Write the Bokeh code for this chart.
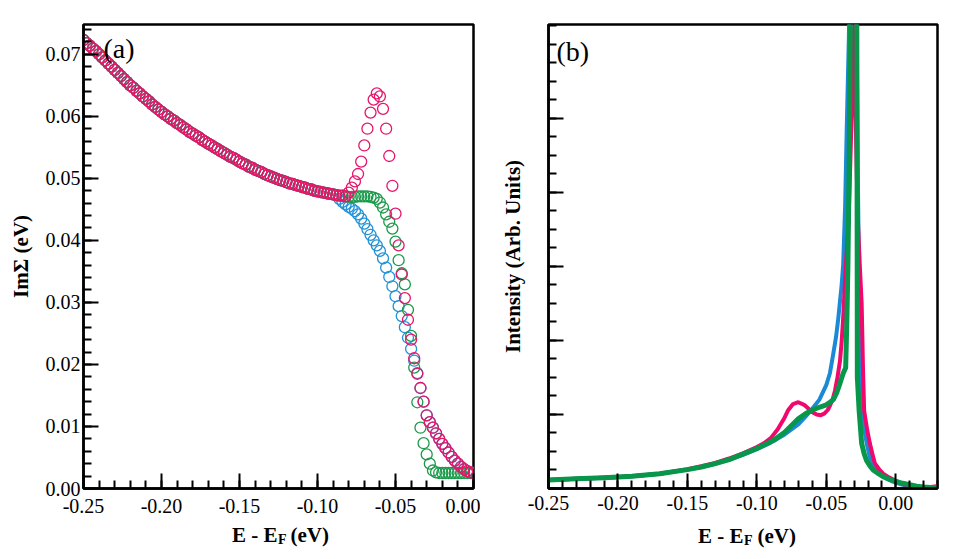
from bokeh.plotting import figure
from bokeh.layouts import row, column
from bokeh.models import Range1d, FixedTicker, NumeralTickFormatter, Label
from bokeh.core.properties import value
from bokeh.embed import file_html
from bokeh.resources import INLINE

FONT = "Liberation Serif"
PINK = "#e8156b"
BLUE = "#2192d6"
GREEN = "#1c9a4b"

# ---------------- panel (a) data: Im Sigma vs E - E_F ----------------
E_a = [-0.250, -0.248, -0.246, -0.244, -0.242, -0.240, -0.238, -0.236, -0.234, -0.232,
       -0.230, -0.228, -0.226, -0.224, -0.222, -0.220, -0.218, -0.216, -0.214, -0.212,
       -0.210, -0.208, -0.206, -0.204, -0.202, -0.200, -0.198, -0.196, -0.194, -0.192,
       -0.190, -0.188, -0.186, -0.184, -0.182, -0.180, -0.178, -0.176, -0.174, -0.172,
       -0.170, -0.168, -0.166, -0.164, -0.162, -0.160, -0.158, -0.156, -0.154, -0.152,
       -0.150, -0.148, -0.146, -0.144, -0.142, -0.140, -0.138, -0.136, -0.134, -0.132,
       -0.130, -0.128, -0.126, -0.124, -0.122, -0.120, -0.118, -0.116, -0.114, -0.112,
       -0.110, -0.108, -0.106, -0.104, -0.102, -0.100, -0.098, -0.096, -0.094, -0.092,
       -0.090, -0.088, -0.086, -0.084, -0.082, -0.080, -0.078, -0.076, -0.074, -0.072,
       -0.070, -0.068, -0.066, -0.064, -0.062, -0.060, -0.058, -0.056, -0.054, -0.052,
       -0.050, -0.048, -0.046, -0.044, -0.042, -0.040, -0.038, -0.036, -0.034, -0.032,
       -0.030, -0.028, -0.026, -0.024, -0.022, -0.020, -0.018, -0.016, -0.014, -0.012,
       -0.010, -0.008, -0.006, -0.004, -0.002, 0.000]

# shared part of the three series (E = -0.250 ... -0.088)
im_shared = [0.0723, 0.0718, 0.0714, 0.0709, 0.0705, 0.0700, 0.0695, 0.0690, 0.0685, 0.0680,
             0.0675, 0.0670, 0.0665, 0.0660, 0.0655, 0.0650, 0.0646, 0.0641, 0.0637, 0.0632,
             0.0628, 0.0624, 0.0619, 0.0615, 0.0611, 0.0607, 0.0603, 0.0600, 0.0596, 0.0593,
             0.0589, 0.0586, 0.0582, 0.0579, 0.0575, 0.0572, 0.0569, 0.0566, 0.0562, 0.0559,
             0.0556, 0.0553, 0.0550, 0.0547, 0.0544, 0.0541, 0.0538, 0.0535, 0.0533, 0.0530,
             0.0527, 0.0524, 0.0522, 0.0519, 0.0517, 0.0514, 0.0512, 0.0510, 0.0507, 0.0505,
             0.0503, 0.0501, 0.0499, 0.0497, 0.0496, 0.0494, 0.0492, 0.0491, 0.0489, 0.0488,
             0.0486, 0.0485, 0.0483, 0.0482, 0.0480, 0.0479, 0.0478, 0.0477, 0.0476, 0.0475,
             0.0474, 0.0473]

# E = -0.086 ... 0.000
im_pink_rest = [0.0472, 0.0472, 0.0471,
                0.0477, 0.0485, 0.0495, 0.0507, 0.0527, 0.0553, 0.0580, 0.0606, 0.0627, 0.0637,
                0.0632, 0.0612, 0.0580, 0.0536, 0.0488, 0.0443, 0.0392, 0.0345, 0.0307, 0.0272,
                0.0240, 0.0210, 0.0185, 0.0162, 0.0140, 0.0118, 0.0107, 0.0098, 0.0089, 0.0080,
                0.0072, 0.0065, 0.0058, 0.0051, 0.0045, 0.0040, 0.0035, 0.0031, 0.0028, 0.0026,
                0.0025]
im_blue_rest = [0.0467, 0.0462, 0.0458,
                0.0454, 0.0451, 0.0447, 0.0442, 0.0435, 0.0427, 0.0418, 0.0409, 0.0400, 0.0392,
                0.0383, 0.0371, 0.0356, 0.0341, 0.0326, 0.0310, 0.0294, 0.0278, 0.0260, 0.0243,
                0.0225, 0.0206, 0.0186, 0.0162, 0.0140, 0.0118, 0.0107, 0.0098, 0.0089, 0.0080,
                0.0072, 0.0065, 0.0058, 0.0051, 0.0045, 0.0040, 0.0035, 0.0031, 0.0028, 0.0026,
                0.0025]
im_green_rest = [0.0472, 0.0472, 0.0471,
                 0.0470, 0.0470, 0.0470, 0.0471, 0.0471, 0.0471, 0.0471, 0.0470, 0.0469, 0.0467,
                 0.0461, 0.0453, 0.0442, 0.0430, 0.0419, 0.0398, 0.0368, 0.0347, 0.0329, 0.0288,
                 0.0246, 0.0195, 0.0139, 0.0098, 0.0073, 0.0055, 0.0040, 0.0029, 0.0026, 0.0025,
                 0.0025, 0.0025, 0.0025, 0.0025, 0.0025, 0.0025, 0.0025, 0.0025, 0.0025, 0.0025,
                 0.0025]

im_pink = im_shared + im_pink_rest
im_blue = im_shared + im_blue_rest
im_green = im_shared + im_green_rest

a_xticks = [-0.25, -0.20, -0.15, -0.10, -0.05, 0.00]
a_yticks = [0.00, 0.01, 0.02, 0.03, 0.04, 0.05, 0.06, 0.07]

# ---------------- panel (b) data: spectral intensity ----------------
E_b_blue = [-0.25, -0.23, -0.21, -0.19, -0.17, -0.15, -0.14, -0.13, -0.12, -0.11, -0.10, -0.09,
            -0.08, -0.07, -0.065, -0.06, -0.055, -0.05, -0.0474, -0.045, -0.043, -0.0414, -0.039,
            -0.0379, -0.0365, -0.0354, -0.0338, -0.032, -0.0305, -0.029, -0.0272, -0.026, -0.0246,
            -0.0228, -0.021, -0.019, -0.0175, -0.0145, -0.0115, -0.007, -0.0031, 0.0, 0.005, 0.01,
            0.015, 0.02, 0.025, 0.03]
I_b_blue = [0.116, 0.13, 0.145, 0.165, 0.20, 0.255, 0.29, 0.335, 0.39, 0.455, 0.53, 0.62,
            0.73, 0.87, 0.97, 1.08, 1.20, 1.40, 1.56, 1.82, 2.05, 2.30, 2.75,
            3.02, 3.8, 4.8, 6.1, 8.0, 9.0, 8.0, 4.0, 2.0, 1.15,
            0.82, 0.61, 0.45, 0.34, 0.25, 0.19, 0.14, 0.10, 0.08, 0.05, 0.03,
            0.02, 0.015, 0.018, 0.025]

E_b_pink = [-0.25, -0.23, -0.21, -0.19, -0.17, -0.15, -0.14, -0.13, -0.12, -0.11, -0.10, -0.095,
            -0.09, -0.085, -0.08, -0.0774, -0.074, -0.0702, -0.066, -0.063, -0.06, -0.057, -0.054,
            -0.0515, -0.049, -0.0474, -0.0455, -0.0438, -0.042, -0.0402, -0.039, -0.0379, -0.0361,
            -0.034, -0.032, -0.0302, -0.029, -0.0275, -0.0259, -0.0246, -0.0236, -0.0228, -0.0205,
            -0.0187, -0.0165, -0.0151, -0.012, -0.0091, -0.005, -0.0007, 0.005, 0.01, 0.015, 0.02,
            0.025, 0.03]
I_b_pink = [0.116, 0.13, 0.145, 0.165, 0.20, 0.26, 0.30, 0.345, 0.405, 0.475, 0.56, 0.61,
            0.68, 0.80, 0.96, 1.06, 1.14, 1.165, 1.13, 1.08, 1.03, 1.00, 0.99,
            1.01, 1.06, 1.12, 1.20, 1.32, 1.50, 1.72, 1.98, 2.30, 2.97,
            3.6, 4.9, 6.25, 5.1, 3.7, 3.0, 2.5, 1.6, 1.05, 0.78,
            0.61, 0.44, 0.34, 0.26, 0.20, 0.15, 0.11, 0.06, 0.035, 0.02, 0.015,
            0.02, 0.03]

E_b_green = [-0.25, -0.23, -0.21, -0.19, -0.17, -0.15, -0.14, -0.13, -0.12, -0.112, -0.10, -0.088,
             -0.08, -0.0702, -0.065, -0.06, -0.0546, -0.05, -0.0474, -0.045, -0.0426, -0.0402,
             -0.038, -0.0361, -0.0352, -0.0345, -0.0335, -0.0327, -0.0318, -0.0305, -0.0290,
             -0.0281, -0.0279, -0.0277, -0.0264, -0.0246, -0.0228, -0.0211, -0.0185, -0.0163,
             -0.0125, -0.0091, -0.004, 0.0005, 0.005, 0.010, 0.015, 0.02, 0.025, 0.03]
I_b_green = [0.116, 0.13, 0.145, 0.165, 0.20, 0.255, 0.29, 0.335, 0.39, 0.45, 0.54, 0.65,
             0.76, 0.94, 1.01, 1.06, 1.10, 1.13, 1.165, 1.20, 1.29, 1.42,
             1.55, 1.63, 2.3, 3.0, 4.5, 6.27, 9.0, 10.0, 9.0,
             6.3, 4.6, 1.5, 1.05, 0.61, 0.47, 0.38, 0.30, 0.25,
             0.20, 0.16, 0.12, 0.094, 0.07, 0.05, 0.03, 0.02, 0.015, 0.015]

b_xticks = [-0.25, -0.20, -0.15, -0.10, -0.05, 0.00]
b_yticks = [0, 1, 2, 3, 4, 5]

x_label_parts = ["E - E", "F", "(eV)"]

TOP_H = 523
LAB_H = 559 - TOP_H


def style(p, xticks, xminor, yticks, yminor):
    p.xaxis.ticker = FixedTicker(ticks=xticks, minor_ticks=xminor)
    p.yaxis.ticker = FixedTicker(ticks=yticks, minor_ticks=yminor)
    for ax in (p.xaxis[0], p.yaxis[0]):
        ax.major_tick_in = 15
        ax.major_tick_out = 0
        ax.minor_tick_in = 8
        ax.minor_tick_out = 0
        ax.major_tick_line_width = 2
        ax.minor_tick_line_width = 2
        ax.axis_line_width = 2.5
        ax.major_tick_line_color = "black"
        ax.minor_tick_line_color = "black"
        ax.axis_line_color = "black"
        ax.major_label_text_font = FONT
        ax.major_label_text_font_size = "20px"
        ax.major_label_text_color = "black"
        ax.axis_label_text_font = FONT
        ax.axis_label_text_font_style = "bold"
        ax.axis_label_text_font_size = "21px"
        ax.axis_label_text_color = "black"
    p.xgrid.visible = False
    p.ygrid.visible = False
    p.outline_line_color = "black"
    p.outline_line_width = 2.5
    p.background_fill_color = "white"
    p.border_fill_color = "white"


def label_fig(width, x_right, x_paren, base_y):
    q = figure(width=width, height=LAB_H, output_backend="svg", toolbar_location=None,
               title=None,
               x_range=Range1d(0, width), y_range=Range1d(0, LAB_H),
               x_axis_location=None, y_axis_location=None,
               min_border=0, min_border_left=0, min_border_right=0,
               min_border_top=0, min_border_bottom=0)
    q.outline_line_color = None
    q.xgrid.visible = False
    q.ygrid.visible = False
    q.background_fill_color = "white"
    q.border_fill_color = "white"
    q.text(x=[x_right], y=[base_y], text=[x_label_parts[0]], text_font=value(FONT),
           text_font_style="bold", text_font_size="21px", text_align="right",
           text_baseline="alphabetic", text_color="black")
    q.text(x=[x_right + 0.5], y=[base_y - 5], text=[x_label_parts[1]], text_font=value(FONT),
           text_font_style="bold", text_font_size="14px", text_align="left",
           text_baseline="alphabetic", text_color="black")
    q.text(x=[x_paren], y=[base_y], text=[x_label_parts[2]], text_font=value(FONT),
           text_font_style="bold", text_font_size="21px", text_align="left",
           text_baseline="alphabetic", text_color="black")
    return q


# ---------------- figure (a) ----------------
p1 = figure(width=480, height=TOP_H, output_backend="svg", toolbar_location=None,
            x_range=Range1d(-0.25, 0.0), y_range=Range1d(0.0, 0.0748),
            min_border_left=83, min_border_right=7, min_border_top=22,
            min_border_bottom=TOP_H - 488)
style(p1, a_xticks, [round(-0.25 + 0.01 * i, 2) for i in range(26)],
      a_yticks, [round(0.002 * i, 3) for i in range(38)])
p1.xaxis.major_label_standoff = 10
p1.xaxis.formatter = NumeralTickFormatter(format="0.00")
p1.yaxis.formatter = NumeralTickFormatter(format="0.00")
p1.yaxis.major_label_standoff = 3
p1.yaxis.axis_label = "ImΣ (eV)"
p1.yaxis.axis_label_standoff = 10

p1.scatter(E_a, im_blue, marker="circle", size=11, fill_color=None, line_color=BLUE, line_width=1.3)
p1.scatter(E_a, im_green, marker="circle", size=11, fill_color=None, line_color=GREEN, line_width=1.3)
p1.scatter(E_a, im_pink, marker="circle", size=11, fill_color=None, line_color=PINK, line_width=1.3)

p1.add_layout(Label(x=20, y=440, x_units="screen", y_units="screen", text="(a)",
                    text_font=FONT, text_font_size="28px", text_baseline="alphabetic",
                    text_color="black"))

# ---------------- figure (b) ----------------
p2 = figure(width=479, height=TOP_H, output_backend="svg", toolbar_location=None,
            x_range=Range1d(-0.25, 0.03), y_range=Range1d(0.0, 6.265),
            min_border_left=68, min_border_right=22, min_border_top=24,
            min_border_bottom=TOP_H - 492)
style(p2, b_xticks, [round(-0.25 + 0.01 * i, 2) for i in range(29)],
      b_yticks, [0.25 * i for i in range(26)])
p2.xaxis.major_label_standoff = 7
p2.xaxis.formatter = NumeralTickFormatter(format="0.00")
p2.yaxis.major_label_overrides = {t: "" for t in b_yticks}
p2.yaxis.major_label_standoff = 0
p2.yaxis.axis_label = "Intensity (Arb. Units)"
p2.yaxis.axis_label_standoff = 24

p2.line(E_b_blue, I_b_blue, line_color="#1a8ad6", line_width=4, line_join="round")
p2.line(E_b_pink, I_b_pink, line_color="#f0086c", line_width=4, line_join="round")
p2.line(E_b_green, I_b_green, line_color="#08964a", line_width=5, line_join="round")

p2.add_layout(Label(x=8, y=437, x_units="screen", y_units="screen", text="(b)",
                    text_font=FONT, text_font_size="28px", text_baseline="alphabetic",
                    text_color="black"))

# ---------------- x-axis titles with subscript ----------------
lab1 = label_fig(480, 277, 290, 25)
lab2 = label_fig(479, 263, 277, 24)

layout = column(row(p1, p2), row(lab1, lab2))
open("out.html", "w").write(file_html(layout, INLINE))
